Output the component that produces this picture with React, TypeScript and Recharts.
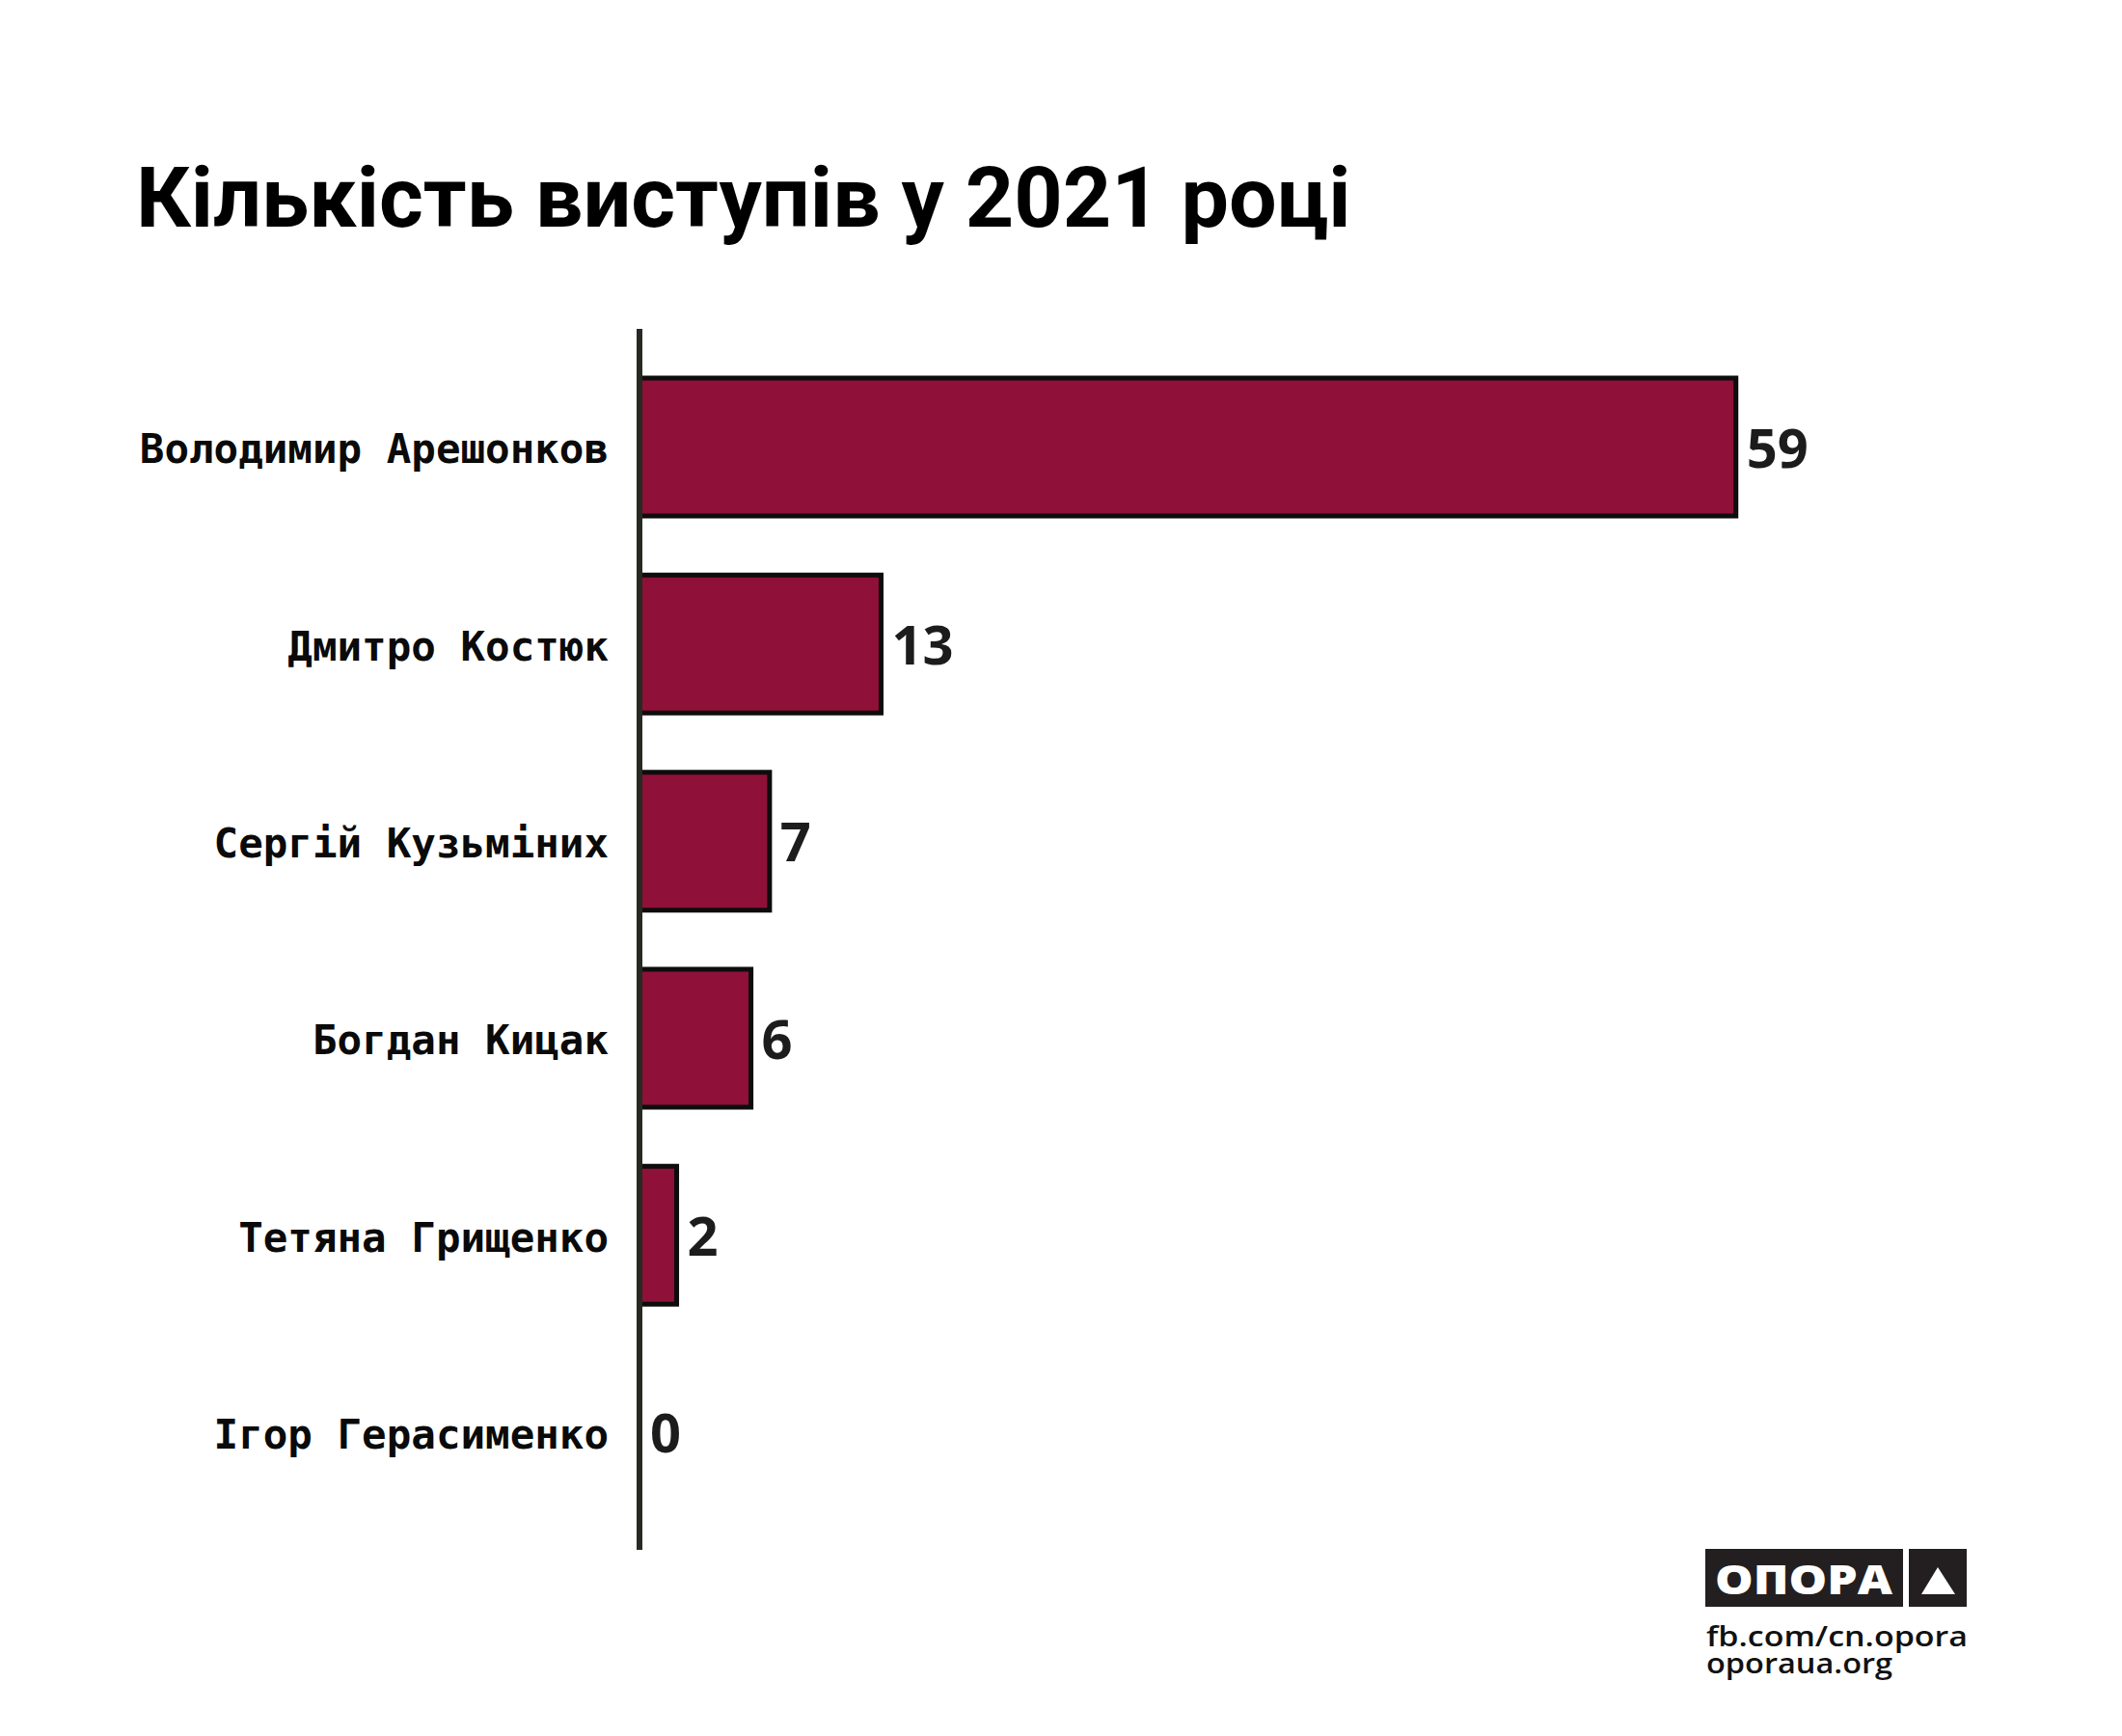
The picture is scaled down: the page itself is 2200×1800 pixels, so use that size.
import { Bar, BarChart, LabelList, XAxis, YAxis } from 'recharts';

const speakers = [
    'Володимир Арешонков',
    'Дмитро Костюк',
    'Сергій Кузьміних',
    'Богдан Кицак',
    'Тетяна Грищенко',
    'Ігор Герасименко',
];
const speeches = [59, 13, 7, 6, 2, 0];

const titleText = 'Кількість виступів у 2021 році';
const brandName = 'ОПОРА';
const brandLinks = ['fb.com/cn.opora', 'oporaua.org'];

const chartData = speakers.map((name, i) => ({ name, value: speeches[i] }));

function NameTick(props: any) {
    const { x, y, payload } = props;
    return (
        <text
            x={x - 24}
            y={y}
            dy={17}
            textAnchor="end"
            fill="#0a0a0a"
            style={{ fontFamily: '"DejaVu Sans Mono", monospace', fontWeight: 700, fontSize: 42.5 }}
        >
            {payload.value}
        </text>
    );
}

function ValueLabel(props: any) {
    const { x, y, width, height, value } = props;
    return (
        <text
            x={Number(x) + Number(width) + 11}
            y={Number(y) + Number(height) / 2}
            dy={21}
            fill="#1c1c1c"
            style={{ fontFamily: '"Open Sans", sans-serif', fontWeight: 700, fontSize: 56 }}
        >
            {value}
        </text>
    );
}

export default function App() {
    return (
        <div style={{ position: 'absolute', left: 0, top: 0, width: 2200, height: 1800, background: '#fff' }}>
            <div style={{ position: 'absolute', left: 0, top: 0 }}>
                <BarChart
                    width={2200}
                    height={1800}
                    data={chartData}
                    layout="vertical"
                    margin={{ top: 341, right: 92, bottom: 193, left: 0 }}
                >
                    <XAxis type="number" domain={[0, 75]} hide />
                    <Bar
                        dataKey="value"
                        fill="#8f1038"
                        stroke="#0d0d0d"
                        strokeWidth={5}
                        barSize={143}
                        minPointSize={0.01}
                        isAnimationActive={false}
                    >
                        <LabelList dataKey="value" content={<ValueLabel />} />
                    </Bar>
                    <YAxis
                        type="category"
                        dataKey="name"
                        width={663}
                        interval={0}
                        tickLine={false}
                        axisLine={{ stroke: '#272a22', strokeWidth: 6 }}
                        padding={{ top: 20, bottom: 20 }}
                        tick={<NameTick />}
                    />
                </BarChart>
            </div>

            <svg width={2200} height={1800} style={{ position: 'absolute', left: 0, top: 0, pointerEvents: 'none' }}>
                <text
                    x={141}
                    y={235}
                    fill="#000"
                    style={{ fontFamily: 'Roboto, sans-serif', fontWeight: 700, fontSize: 88 }}
                >
                    {titleText}
                </text>

                {/* logo block, bottom right */}
                <rect x={1768} y={1606} width={205} height={60} fill="#231f20" />
                <text
                    x={1778}
                    y={1653}
                    fill="#fff"
                    textLength={184}
                    lengthAdjust="spacingAndGlyphs"
                    style={{ fontFamily: '"Open Sans", sans-serif', fontWeight: 800, fontSize: 43 }}
                >
                    {brandName}
                </text>
                <rect x={1979} y={1606} width={60} height={60} fill="#231f20" />
                <polygon points="2009,1625 1992,1653 2027,1653" fill="#fff" />
                {brandLinks.map((t, i) => (
                    <text
                        key={t}
                        x={1769}
                        y={1707 + i * 28}
                        fill="#111"
                        textLength={i === 0 ? 271 : 193}
                        lengthAdjust="spacingAndGlyphs"
                        style={{ fontFamily: '"Open Sans", sans-serif', fontWeight: 600, fontSize: 29 }}
                    >
                        {t}
                    </text>
                ))}
            </svg>
        </div>
    );
}
